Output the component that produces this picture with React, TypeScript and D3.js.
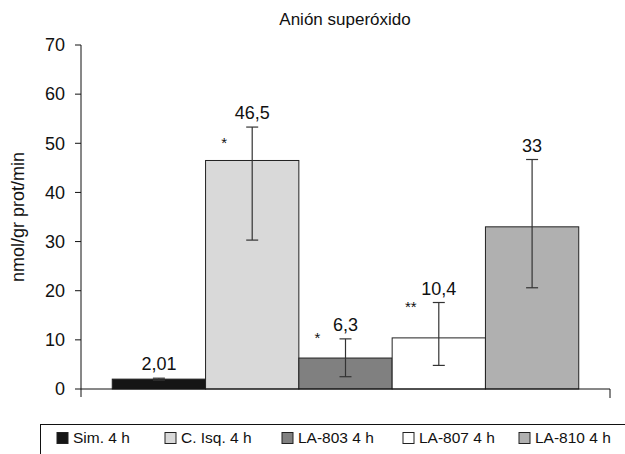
import React from "react";
import * as d3 from "d3";

const categories = ["Sim. 4 h", "C. Isq. 4 h", "LA-803 4 h", "LA-807 4 h", "LA-810 4 h"];
const values = [2.01, 46.5, 6.3, 10.4, 33];
const valueLabels = ["2,01", "46,5", "6,3", "10,4", "33"];
const errLow = [1.8, 30.3, 2.5, 4.8, 20.6];
const errHigh = [2.2, 53.3, 10.2, 17.6, 46.7];
const stars = ["", "*", "*", "**", ""];
const starLevels = [0, 50.9, 11.2, 17.5, 0];
const colors = ["#151515", "#d9d9d9", "#808080", "#ffffff", "#b0b0b0"];
const yTicks = [0, 10, 20, 30, 40, 50, 60, 70];
const title = "Anión superóxido";
const yLabel = "nmol/gr prot/min";

const W = 625;
const H = 454;
const left = 81;
const right = 610;
const y0 = 389;
const yTop = 45;
const legendX = [57, 165, 282, 403, 519];

export default function App() {
  const x = d3.scaleBand<string>().domain(categories).range([left, right]).paddingInner(0).paddingOuter(0.335);
  const y = d3.scaleLinear().domain([0, 70]).range([y0, yTop]);
  const bw = x.bandwidth();
  const font = "Liberation Sans, Arial, sans-serif";
  return (
    <svg width={W} height={H} style={{ position: "absolute", left: 0, top: 0 }} fontFamily={font}>
      <rect x={0} y={0} width={W} height={H} fill="#fff" />
      <text x={345} y={25} fontSize={17} textAnchor="middle" fill="#111">{title}</text>
      <text transform={`translate(24,${217}) rotate(-90)`} fontSize={18} textAnchor="middle" fill="#111">{yLabel}</text>
      {/* y axis */}
      <line x1={left} x2={left} y1={y(70)} y2={y0 + 8} stroke="#111" strokeWidth={1} />
      {yTicks.map((t) => (
        <g key={t}>
          <line x1={left - 6} x2={left} y1={y(t)} y2={y(t)} stroke="#111" />
          <text x={left - 16} y={y(t)} dy="0.35em" fontSize={18} textAnchor="end" fill="#111">{t}</text>
        </g>
      ))}
      {/* bars */}
      {categories.map((c, i) => (
        <rect key={c} x={x(c)!} y={y(values[i])} width={bw} height={y0 - y(values[i])} fill={colors[i]} stroke="#222" strokeWidth={1} />
      ))}
      {/* x axis */}
      <line x1={left} x2={right} y1={y0} y2={y0} stroke="#111" strokeWidth={1} />
      <line x1={right} x2={right} y1={y0} y2={y0 + 9} stroke="#111" strokeWidth={1} />
      {/* error bars */}
      {categories.map((c, i) => {
        const cx = x(c)! + bw / 2;
        return (
          <g key={c} stroke="#333" strokeWidth={1.2}>
            <line x1={cx} x2={cx} y1={y(errLow[i])} y2={y(errHigh[i])} />
            <line x1={cx - 6} x2={cx + 6} y1={y(errLow[i])} y2={y(errLow[i])} />
            <line x1={cx - 6} x2={cx + 6} y1={y(errHigh[i])} y2={y(errHigh[i])} />
          </g>
        );
      })}
      {/* value labels */}
      {categories.map((c, i) => (
        <text key={c} x={x(c)! + bw / 2} y={y(errHigh[i]) - 8} fontSize={18} textAnchor="middle" fill="#111">{valueLabels[i]}</text>
      ))}
      {/* stars */}
      {categories.map((c, i) =>
        stars[i] ? (
          <text key={c} x={x(c)! + bw / 2 - 28} y={y(starLevels[i]) + 9} fontSize={15} textAnchor="middle" fill="#111">{stars[i]}</text>
        ) : null
      )}
      {/* legend */}
      <rect x={40.5} y={424.5} width={600} height={40} fill="none" stroke="#111" strokeWidth={1} />
      {categories.map((c, i) => (
        <g key={c}>
          <rect x={legendX[i]} y={432.5} width={11} height={11} fill={colors[i]} stroke="#222" strokeWidth={1} />
          <text x={legendX[i] + 16} y={443} fontSize={15.5} fill="#111">{c}</text>
        </g>
      ))}
    </svg>
  );
}
